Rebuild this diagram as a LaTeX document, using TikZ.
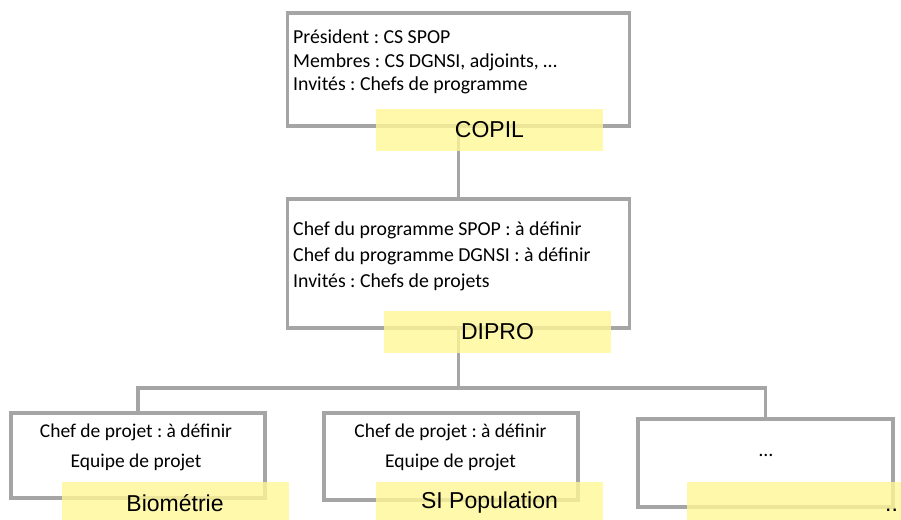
\documentclass[tikz,border=0pt]{standalone}
\usepackage{fontspec}
\setmainfont{Carlito}
\newfontfamily\labelfont{Liberation Sans}
\frenchspacing
\definecolor{boxgray}{RGB}{165,165,165}
\definecolor{tagyellow}{RGB}{255,247,150}
\begin{document}
\begin{tikzpicture}[x=1pt,y=-1pt,
  orgbox/.style={draw=boxgray, line width=3.2pt, fill=white, inner sep=0pt},
  link/.style={draw=boxgray, line width=3.2pt},
  tag/.style={fill=tagyellow, fill opacity=0.8, text opacity=1, inner sep=0pt,
    minimum width=227pt, minimum height=42pt,
    font=\labelfont\fontsize{23}{27}\selectfont},
  info/.style={inner sep=0pt, font=\fontsize{19.8}{23.5}\selectfont},
]
\useasboundingbox (0,0) rectangle (901,519);

% frames of the committees and projects
\node[orgbox, minimum width=342pt, minimum height=113pt] (copil) at (458.5,69.5) {};
\node[orgbox, minimum width=342pt, minimum height=129pt] (dipro) at (458.5,263.5) {};
\node[orgbox, minimum width=254pt, minimum height=85pt] (bio) at (138,455.5) {};
\node[orgbox, minimum width=254pt, minimum height=87pt] (sipop) at (451,456.5) {};
\node[orgbox, minimum width=255pt, minimum height=88pt] (other) at (765.5,463) {};

% hierarchy links
\coordinate (fork) at (458.5,388);
\draw[link] (copil.south) -- (dipro.north);
\draw[link] (dipro.south) -- (fork);
\draw[link] (fork) -| (bio.north);
\draw[link] (fork) -| (other.north);

% yellow name tags
\node[tag] (copiltag) at (489.5,129.5) {COPIL};
\node[tag] (diprotag) at (497.5,332) {DIPRO};
\node[tag] (biotag) at (175,503) {Biométrie};
\node[tag] (siptag) at (489.5,503) {SI Population};
\node[tag] (othertag) at (800.5,503) {};
\node[font=\labelfont\fontsize{23}{27}\selectfont, inner sep=0pt, anchor=base west] (othername) at (885,511) {..};

% contents
\node[info, align=left, anchor=west] (copiltxt) at (293,62)
  {Président : CS SPOP\\Membres : CS DGNSI, adjoints, …\\Invités : Chefs de programme};
\node[info, align=left, anchor=west, font=\fontsize{19.8}{26}\selectfont] (diprotxt) at (293,256)
  {Chef du programme SPOP : à définir\\Chef du programme DGNSI : à définir\\Invités : Chefs de projets};
\node[info, align=center, font=\fontsize{19.5}{30}\selectfont] (biotxt) at (136,447)
  {Chef de projet : à définir\\Equipe de projet};
\node[info, align=center, font=\fontsize{19.5}{30}\selectfont] (siptxt) at (450.5,447)
  {Chef de projet : à définir\\Equipe de projet};
\node[info] (othertxt) at (766,455) {…};
\end{tikzpicture}
\end{document}
